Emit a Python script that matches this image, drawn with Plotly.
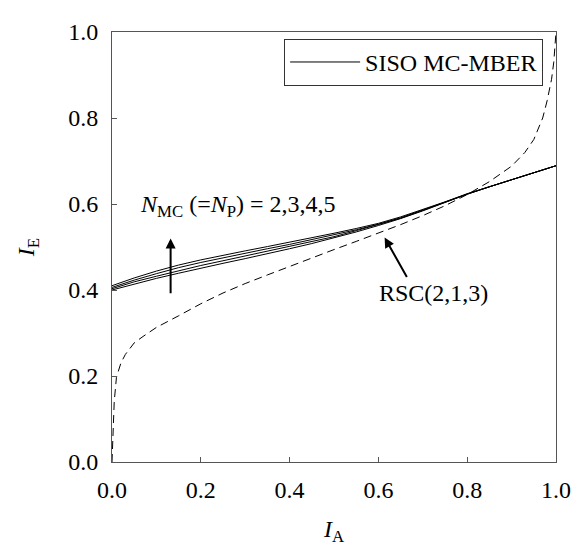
import plotly.graph_objects as go

# ---- data ----
ia_mc = [0, 0.05, 0.1, 0.15, 0.2, 0.25, 0.3, 0.35, 0.4, 0.45, 0.5, 0.55,
         0.6, 0.65, 0.7, 0.75, 0.8, 0.85, 0.9, 0.95, 1.0]
ie_n2 = [0.400, 0.414, 0.427, 0.439, 0.451, 0.462, 0.473, 0.484, 0.496, 0.508, 0.521, 0.535,
         0.550, 0.566, 0.584, 0.604, 0.623, 0.640, 0.656, 0.673, 0.689]
ie_n3 = [0.403, 0.419, 0.432, 0.445, 0.457, 0.468, 0.479, 0.490, 0.501, 0.512, 0.524, 0.538,
         0.552, 0.567, 0.585, 0.604, 0.623, 0.640, 0.656, 0.673, 0.689]
ie_n4 = [0.406, 0.423, 0.438, 0.452, 0.464, 0.475, 0.485, 0.496, 0.506, 0.517, 0.528, 0.540,
         0.553, 0.568, 0.586, 0.605, 0.623, 0.640, 0.656, 0.673, 0.689]
ie_n5 = [0.410, 0.428, 0.444, 0.458, 0.470, 0.481, 0.491, 0.501, 0.511, 0.521, 0.532, 0.543,
         0.555, 0.570, 0.587, 0.605, 0.624, 0.640, 0.656, 0.673, 0.689]

ia_rsc = [0, 0.002, 0.005, 0.01, 0.02, 0.03, 0.05, 0.07, 0.1, 0.15, 0.2, 0.25, 0.3, 0.35,
          0.4, 0.45, 0.5, 0.55, 0.6, 0.65, 0.7, 0.75, 0.8, 0.85, 0.9, 0.93, 0.95, 0.97,
          0.98, 0.99, 0.995, 1.0]
ie_rsc = [0, 0.083, 0.14, 0.197, 0.23, 0.25, 0.277, 0.292, 0.313, 0.34, 0.368, 0.393, 0.415,
          0.435, 0.455, 0.474, 0.494, 0.513, 0.532, 0.552, 0.573, 0.596, 0.622, 0.652, 0.688,
          0.72, 0.75, 0.80, 0.84, 0.89, 0.93, 1.0]

tick_vals = [0.0, 0.2, 0.4, 0.6, 0.8, 1.0]
tick_text = ["0.0", "0.2", "0.4", "0.6", "0.8", "1.0"]

FONT = "Liberation Serif"
FS = 24

fig = go.Figure()
for i, ys in enumerate([ie_n2, ie_n3, ie_n4, ie_n5]):
    fig.add_trace(go.Scatter(x=ia_mc, y=ys, mode="lines",
                             line=dict(color="black", width=1),
                             name="SISO MC-MBER", showlegend=(i == 0)))
fig.add_trace(go.Scatter(x=ia_rsc, y=ie_rsc, mode="lines",
                         line=dict(color="black", width=1, dash="8px,5px"),
                         name="RSC(2,1,3)", showlegend=False))

axis_common = dict(range=[0, 1], tickvals=tick_vals, ticktext=tick_text,
                   showgrid=False, zeroline=False, showline=True, linecolor="#555",
                   linewidth=1, mirror=True, ticks="inside", ticklen=5, tickcolor="#555",
                   ticklabeloverflow="allow",
                   tickfont=dict(family=FONT, size=FS, color="black"))

fig.update_layout(
    width=582, height=548,
    margin=dict(l=104, r=34, t=11, b=94),
    paper_bgcolor="white", plot_bgcolor="white",
    font=dict(family=FONT, size=FS, color="black"),
    xaxis=dict(**axis_common, ticklabelstandoff=6,
               title=dict(text="<i>I</i><sub>A</sub>", standoff=18,
                          font=dict(family=FONT, size=FS))),
    yaxis=dict(**axis_common, ticklabelstandoff=8,
               title=dict(text="<i>I</i><sub>E</sub>", standoff=26,
                          font=dict(family=FONT, size=FS))),
    legend=dict(x=0.971, y=0.984, xanchor="right", yanchor="top",
                bgcolor="white", bordercolor="#333", borderwidth=1,
                itemwidth=70,
                font=dict(family=FONT, size=FS, color="black")),
    showlegend=True,
)

fig.add_annotation(x=0.132, y=0.52, ax=0.132, ay=0.389, xref="x", yref="y",
                   axref="x", ayref="y", showarrow=True, arrowhead=2, arrowsize=1,
                   arrowwidth=2, arrowcolor="black", text="")
fig.add_annotation(x=0.614, y=0.522, ax=0.666, ay=0.427, xref="x", yref="y",
                   axref="x", ayref="y", showarrow=True, arrowhead=2, arrowsize=1,
                   arrowwidth=2, arrowcolor="black", text="")
fig.add_annotation(x=0.283, y=0.596, xref="x", yref="y", showarrow=False,
                   text="<i>N</i><sub>MC</sub> (=<i>N</i><sub>P</sub>) = 2,3,4,5",
                   font=dict(family=FONT, size=FS, color="black"))
fig.add_annotation(x=0.725, y=0.393, xref="x", yref="y", showarrow=False,
                   text="RSC(2,1,3)", font=dict(family=FONT, size=FS, color="black"))

fig.write_html("out.html")
